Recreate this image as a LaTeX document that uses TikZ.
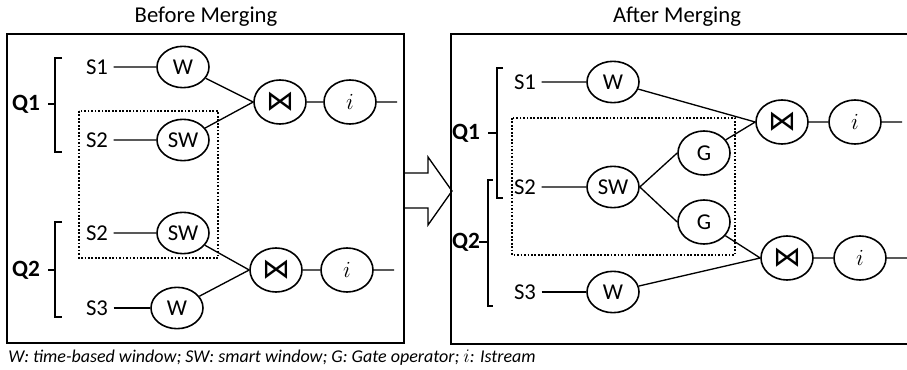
\documentclass[tikz,border=0pt]{standalone}
\usepackage{amsfonts,amssymb,amsmath}
\usepackage{fontspec}
\setmainfont{Carlito}
\newfontfamily\symfont{DejaVu Sans}
\usepackage{tikz}
\usetikzlibrary{shapes,arrows.meta}

\begin{document}
\begin{tikzpicture}[x=0.75pt,y=-0.75pt,
op/.style={draw,ellipse,line width=1.2pt,minimum width=39pt,minimum height=31pt,inner sep=0pt,font=\fontsize{17}{19}\selectfont},
bigop/.style={op,minimum height=33pt},
jn/.style={bigop,font=\fontsize{21}{23}\symfont},
src/.style={inner sep=4pt,font=\fontsize{17}{19}\selectfont},
qlab/.style={inner sep=0pt,font=\fontsize{17.5}{19}\selectfont\bfseries},
title/.style={font=\fontsize{17}{19}\selectfont},
frame/.style={line width=1.6pt},
brk/.style={line width=1.6pt},
grp/.style={line width=1.4pt,dash pattern=on 1.3pt off 1.3pt},
ln/.style={line width=1pt},
thk/.style={line width=1.8pt}]
\useasboundingbox (0,0) rectangle (907,370);
\node[title](tb) at (206,17){Before Merging};
\node[title](ta) at (677,17){After Merging};
\draw[frame](7,34)rectangle(404,343);
\draw[frame](930,34)--(451,34)--(451,344)--(930,344);
\draw[line width=1pt](404,173)--(428,173)--(428,157)--(452,191)--(428,225)--(428,208)--(404,208);
\draw[grp](79,111)rectangle(218,258);
\draw[grp](512,118)rectangle(735,255);
\draw[brk](62,58)--(55,58)--(55,152)--(62,152)(55,104)--(48,104);
\draw[brk](62,222)--(55,222)--(55,317)--(62,317)(55,270)--(48,270);
\draw[brk](503,68)--(497,68)--(497,198)--(503,198)(497,133)--(488,133);
\draw[brk](493,180)--(488,180)--(488,306)--(493,306)(488,242)--(479,242);
\node[qlab](q1) at (26,104){Q1};
\node[qlab](q2) at (26,270){Q2};
\node[qlab](q1r) at (466,133){Q1};
\node[qlab](q2r) at (466,242){Q2};
\node[src](s1) at (97,67){S1};
\node[op](w1) at (183,67){W};
\node[src](s2a) at (97,140){S2};
\node[op](sw1) at (183,140){SW};
\node[jn](j1) at (280,102){⋈};
\node[bigop](i1) at (350,102){$i$};
\coordinate(o1) at (397,102);
\node[src](s2b) at (97,233){S2};
\node[op](sw2) at (183,233){SW};
\node[src](s3) at (97,308){S3};
\node[op](w2) at (177,308){W};
\node[jn](j2) at (276,270){⋈};
\node[bigop](i2) at (347,270){$i$};
\coordinate(o2) at (394,270);
\node[src](s1r) at (525,82){S1};
\node[op](w3) at (613,82){W};
\node[src](s2r) at (525,187){S2};
\node[op](sw3) at (613,187){SW};
\node[bigop](g1) at (704,153){G};
\node[bigop](g2) at (704,222){G};
\node[jn](j3) at (782,122){⋈};
\node[bigop](i3) at (855,122){$i$};
\coordinate(o3) at (902,122);
\node[jn](j4) at (787,258){⋈};
\node[bigop](i4) at (860,258){$i$};
\coordinate(o4) at (912,258);
\node[src](s3r) at (525,292){S3};
\node[op](w4) at (613,292){W};
\draw[ln](s1)--(w1)(s2a)--(sw1)(w1)--(j1.west)(sw1)--(j1.west)(j1)--(i1)(i1)--(o1);
\draw[ln](s2b)--(sw2)(sw2)--(j2.west)(w2)--(j2.west)(j2)--(i2)(i2)--(o2);
\draw[thk](s3)--(w2);
\draw[ln](s1r)--(w3)(s2r)--(sw3)(w3)--(j3.west)(sw3.east)--(g1.west)(sw3.east)--(g2.west)
(g1)--(j3.west)(g2)--(j4.west)(w4)--(j4.west)(j3)--(i3)(i3)--(o3)(j4)--(i4)(i4)--(o4);
\draw[thk](s3r)--(w4);
\node[anchor=west,inner sep=0pt,font=\fontsize{13.5}{15}\selectfont\itshape](cap) at (8,358){W: time-based window; SW: smart window; G: Gate operator; $i$: Istream};
\end{tikzpicture}
\end{document}
